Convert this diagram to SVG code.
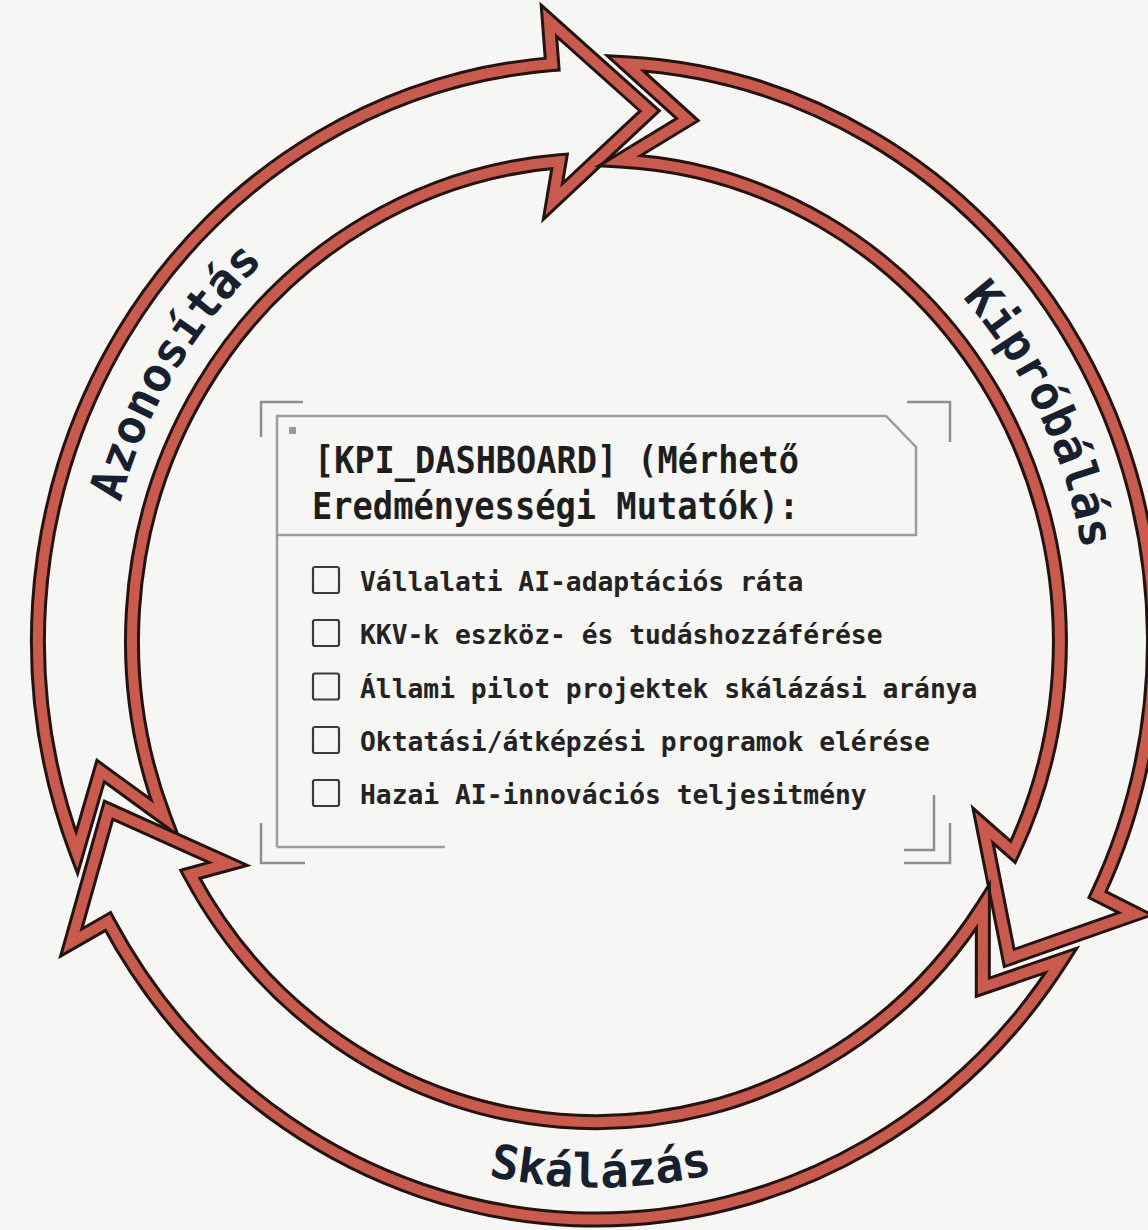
<svg xmlns="http://www.w3.org/2000/svg" xmlns:xlink="http://www.w3.org/1999/xlink" width="1148" height="1230" viewBox="0 0 1148 1230">
<style>
.bk{fill:none;stroke:#221411;stroke-width:16;stroke-linejoin:miter;stroke-miterlimit:12}
.rd{fill:none;stroke:#c95a4c;stroke-width:10;stroke-linejoin:miter;stroke-miterlimit:12}
.lbl{font-family:"DejaVu Sans Mono","Liberation Mono",monospace;font-weight:bold;font-size:47px;fill:#17202e}
.frame{fill:none;stroke:#8e8e8e;stroke-width:2.5}
.panel{fill:none;stroke:#9c9c9c;stroke-width:2.5}
.hdr{font-family:"DejaVu Sans Mono","Liberation Mono",monospace;font-weight:bold;font-size:37px;fill:#1e1e1e}
.item{font-family:"DejaVu Sans Mono","Liberation Mono",monospace;font-weight:bold;font-size:26.3px;fill:#232323}
.cb{fill:none;stroke:#3a3a3a;stroke-width:2.2}
</style>
<defs>
<path id="a1" d="M 76.8 853.1 A 558 578.6 0 0 1 552.2 64.1 L 548.9 20.7 L 649.7 110.9 L 552.9 201.5 L 559.6 161.3 A 464 481.2 0 0 0 164.3 817.4 L 100.6 771.0 Z"/>
<path id="a2" d="M 625.2 63.2 A 558 578.6 0 0 1 1097.5 894.7 L 1135.3 913.8 L 1009.2 958.0 L 983.0 825.6 L 1013.0 851.9 A 464 481.2 0 0 0 620.3 160.5 L 687.4 119.6 Z"/>
<path id="a3" d="M 1061.3 960.4 A 558 578.6 0 0 1 108.0 921.5 L 71.2 942.6 L 108.6 810.1 L 228.2 863.9 L 190.2 874.3 A 464 481.2 0 0 0 982.9 906.6 L 982.8 987.2 Z"/>
<path id="t1" d="M 106.8 712.3 A 494 512.3 0 0 1 443.4 153.8"/>
<path id="t2" d="M 793.0 171.2 A 494 512.3 0 0 1 1076.4 760.6"/>
<path id="t3" d="M 260.8 1062.7 A 527 546.5 0 0 0 938.2 1056.6"/>
</defs>
<rect width="1148" height="1230" fill="#f6f6f5"/>
<g id="connectors">
<use xlink:href="#a1" class="bk"/><use xlink:href="#a1" class="rd"/>
<use xlink:href="#a2" class="bk"/><use xlink:href="#a2" class="rd"/>
<use xlink:href="#a3" class="bk"/><use xlink:href="#a3" class="rd"/>
</g>
<g id="node-azonositas">
<text class="lbl"><textPath xlink:href="#t1" startOffset="50%" text-anchor="middle">Azonosítás</textPath></text>
</g>
<g id="node-kiprobalas">
<text class="lbl"><textPath xlink:href="#t2" startOffset="50%" text-anchor="middle">Kipróbálás</textPath></text>
</g>
<g id="node-skalazas">
<text class="lbl"><textPath xlink:href="#t3" startOffset="50%" text-anchor="middle">Skálázás</textPath></text>
</g>
<g id="node-kpi-dashboard">
<path class="frame" d="M 261 437 V 402 H 303"/>
<path class="frame" d="M 907 402 H 950 V 442"/>
<path class="frame" d="M 261 823 V 863 H 305"/>
<path class="frame" d="M 904 863 H 950 V 823"/>
<path class="frame" d="M 904 850 H 934 V 795"/>
<path class="panel" d="M 277 847 V 416 H 886 L 916 447 V 535 H 277"/>
<path class="panel" d="M 277 847 H 445"/>
<rect x="289" y="427" width="7" height="7" fill="#9a9a9a"/>
<text class="hdr" x="314" y="473" textLength="485" lengthAdjust="spacingAndGlyphs">[KPI_DASHBOARD] (Mérhető</text>
<text class="hdr" x="312" y="519" textLength="487" lengthAdjust="spacingAndGlyphs">Eredményességi Mutatók):</text>
<rect class="cb" x="313" y="567" width="26" height="26" rx="2"/>
<text class="item" x="360" y="591">Vállalati AI-adaptációs ráta</text>
<rect class="cb" x="313" y="620" width="26" height="26" rx="2"/>
<text class="item" x="360" y="644">KKV-k eszköz- és tudáshozzáférése</text>
<rect class="cb" x="313" y="673.5" width="26" height="26" rx="2"/>
<text class="item" x="360" y="697.5">Állami pilot projektek skálázási aránya</text>
<rect class="cb" x="313" y="727" width="26" height="26" rx="2"/>
<text class="item" x="360" y="751">Oktatási/átképzési programok elérése</text>
<rect class="cb" x="313" y="780" width="26" height="26" rx="2"/>
<text class="item" x="360" y="804">Hazai AI-innovációs teljesitmény</text>
</g>
</svg>
